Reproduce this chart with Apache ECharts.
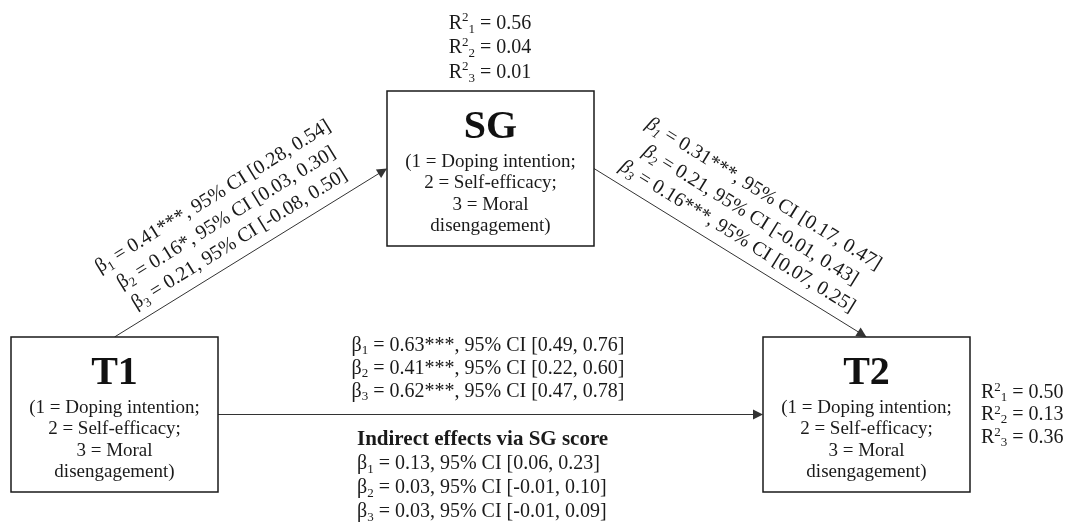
<!DOCTYPE html>
<html>
<head>
<meta charset="utf-8">
<script src="https://cdn.jsdelivr.net/npm/echarts@6/dist/echarts.min.js"></script>
<style>
html, body { margin: 0; padding: 0; background: #ffffff; }
#chart { width: 1066px; height: 524px; }
</style>
</head>
<body>
<div id="chart"></div>
<script>
// ---------------- data ----------------
const constructs = ['T1', 'SG', 'T2'];
const outcomeLabels = ['(1 = Doping intention;', '2 = Self-efficacy;', '3 = Moral', 'disengagement)'];
const r2SG = ['0.56', '0.04', '0.01'];
const r2T2 = ['0.50', '0.13', '0.36'];
const betaA = ['0.41***', '0.16*', '0.21'];          // T1 -> SG
const ciA = [['0.28', '0.54'], ['0.03', '0.30'], ['-0.08', '0.50']];
const betaB = ['0.31***', '0.21', '0.16***'];        // SG -> T2
const ciB = [['0.17', '0.47'], ['-0.01', '0.43'], ['0.07', '0.25']];
const betaC = ['0.63***', '0.41***', '0.62***'];     // T1 -> T2 (direct)
const ciC = [['0.49', '0.76'], ['0.22', '0.60'], ['0.47', '0.78']];
const indirectTitle = 'Indirect effects via SG score';
const betaInd = ['0.13', '0.03', '0.03'];
const ciInd = [['0.06', '0.23'], ['-0.01', '0.10'], ['-0.01', '0.09']];
const paths = [['T1', 'SG'], ['SG', 'T2'], ['T1', 'T2']];

// ---------------- layout (diagram units = pixels) ----------------
const W = 1066, H = 524;
const BOX = [207, 155];
const nodePos = { T1: [114.5, 414.5], SG: [490.5, 168.5], T2: [866.5, 414.5] };
const pathPorts = [['top', 'left'], ['right', 'top'], ['right', 'left']];
const pathLabel = [
  { show: true, distance: 5, lh: 25, greek: 'b' },
  { show: true, distance: 5, lh: 25, greek: 'bi' },
  { show: true, distance: 11, lh: 23.3, greek: 'b' }
];
const annoLayout = [
  { x: 490, y: 48, align: 'left', center: true, lh: 24.5 },
  { x: 981, y: 415, align: 'left', lh: 22.5 },
  { x: 357, y: 476, align: 'left', lh: 24 }
];
const ARROW = [8, 10];
const SERIF = '"Liberation Serif", "Times New Roman", serif';
const INK = '#1a1a1a';

function port(name, side) {
  const p = nodePos[name];
  if (side === 'top') return [p[0], p[1] - BOX[1] / 2];
  if (side === 'bottom') return [p[0], p[1] + BOX[1] / 2];
  if (side === 'left') return [p[0] - BOX[0] / 2, p[1]];
  return [p[0] + BOX[0] / 2, p[1]];
}

function makeRich(lh) {
  return {
    t: { fontFamily: SERIF, fontSize: 20, lineHeight: lh, color: INK },
    b: { fontFamily: SERIF, fontSize: 20, lineHeight: lh, color: INK },
    bi: { fontFamily: SERIF, fontSize: 20, fontStyle: 'italic', lineHeight: lh, color: INK },
    h: { fontFamily: SERIF, fontSize: 21, fontWeight: 'bold', lineHeight: lh, color: INK },
    sub: { fontFamily: SERIF, fontSize: 13, lineHeight: 11, verticalAlign: 'bottom', color: INK },
    subi: { fontFamily: SERIF, fontSize: 13, fontStyle: 'italic', lineHeight: 11, verticalAlign: 'bottom', color: INK },
    sup: { fontFamily: SERIF, fontSize: 13, lineHeight: 15, verticalAlign: 'top', color: INK }
  };
}

function betaLines(betas, cis, greek) {
  const subStyle = greek === 'bi' ? 'subi' : 'sub';
  return betas.map((b, i) =>
    '{' + greek + '|β}{' + subStyle + '|' + (i + 1) + '}{t| = ' + b + ', 95% CI [' + cis[i][0] + ', ' + cis[i][1] + ']}'
  ).join('\n');
}
function r2Lines(vals) {
  return vals.map((v, i) => '{t|R}{sup|2}{sub|' + (i + 1) + '}{t| = ' + v + '}').join('\n');
}

const pathTexts = [betaLines(betaA, ciA, 'b'), betaLines(betaB, ciB, 'bi'), betaLines(betaC, ciC, 'b')];
const annoTexts = [
  r2Lines(r2SG),
  r2Lines(r2T2),
  '{h|' + indirectTitle + '}\n' + betaLines(betaInd, ciInd, 'b')
];

const lineData = paths.map((pth, i) => {
  const a = port(pth[0], pathPorts[i][0]);
  const bRaw = port(pth[1], pathPorts[i][1]);
  const dx = bRaw[0] - a[0], dy = bRaw[1] - a[1];
  const len = Math.sqrt(dx * dx + dy * dy);
  const b = [bRaw[0] - dx / len * ARROW[1] / 2, bRaw[1] - dy / len * ARROW[1] / 2];
  const L = pathLabel[i];
  return {
    coords: [a, b],
    label: {
      show: L.show, position: 'middle', distance: L.distance,
      formatter: pathTexts[i], rich: makeRich(L.lh),
      fontFamily: SERIF, fontSize: 20, lineHeight: L.lh, color: INK
    }
  };
});

const chart = echarts.init(document.getElementById('chart'), null, { renderer: 'canvas' });
chart.setOption({
  backgroundColor: '#ffffff',
  animation: false,
  grid: { left: 0, right: 0, top: 0, bottom: 0 },
  xAxis: { type: 'value', min: 0, max: W, show: false },
  yAxis: { type: 'value', min: 0, max: H, inverse: true, show: false },
  series: [
    {
      type: 'lines',
      coordinateSystem: 'cartesian2d',
      z: 2,
      symbol: ['none', 'triangle'],
      symbolSize: ARROW,
      lineStyle: { color: '#333333', width: 1, opacity: 1, curveness: 0 },
      data: lineData
    },
    {
      type: 'custom',
      coordinateSystem: 'cartesian2d',
      z: 3,
      data: constructs.map(n => [nodePos[n][0], nodePos[n][1], BOX[0], BOX[1]]),
      renderItem: function (params, api) {
        const c = api.coord([api.value(0), api.value(1)]);
        const s = api.size([api.value(2), api.value(3)], [api.value(0), api.value(1)]);
        const top = c[1] - s[1] / 2;
        return {
          type: 'group',
          children: [
            {
              type: 'rect',
              shape: { x: c[0] - s[0] / 2, y: top, width: s[0], height: s[1] },
              style: { fill: '#ffffff', stroke: INK, lineWidth: 1.5 }
            },
            {
              type: 'text', x: c[0], y: top + 37,
              style: {
                text: constructs[params.dataIndex], fontFamily: SERIF, fontSize: 40, fontWeight: 'bold',
                align: 'center', verticalAlign: 'middle', fill: '#111111'
              }
            },
            {
              type: 'text', x: c[0], y: top + 60.5,
              style: {
                text: outcomeLabels.join('\n'), fontFamily: SERIF, fontSize: 19, lineHeight: 21.3,
                align: 'center', verticalAlign: 'top', fill: INK
              }
            }
          ]
        };
      }
    },
    {
      type: 'custom',
      coordinateSystem: 'cartesian2d',
      z: 4,
      data: annoLayout.map((a, i) => [a.x, a.y, i]),
      renderItem: function (params, api) {
        const c = api.coord([api.value(0), api.value(1)]);
        const A = annoLayout[params.dataIndex];
        return {
          type: 'text', x: c[0], y: c[1],
          style: {
            text: annoTexts[params.dataIndex], rich: makeRich(A.lh),
            fontFamily: SERIF, fontSize: 20, lineHeight: A.lh,
            align: A.center ? 'center' : A.align, verticalAlign: 'middle', fill: INK
          }
        };
      }
    }
  ]
});
</script>
</body>
</html>
